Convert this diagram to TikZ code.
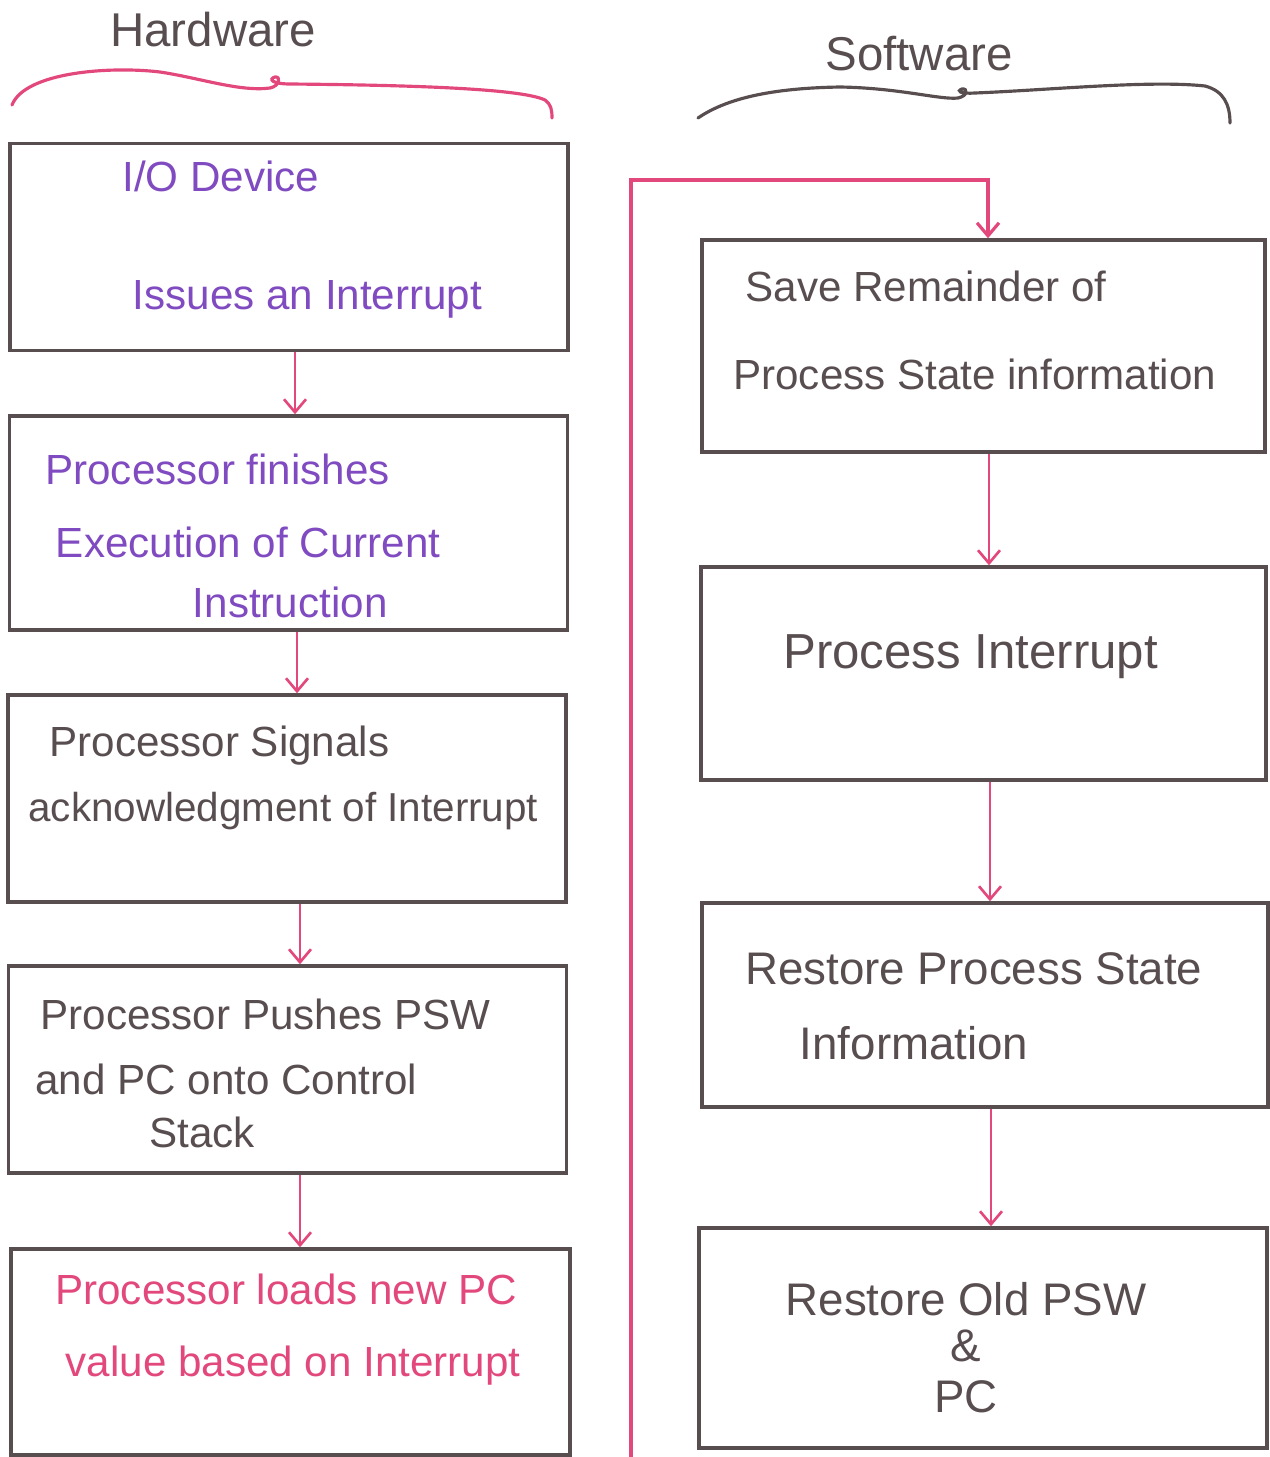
\documentclass[tikz,border=0pt]{standalone}
\usepackage{fontspec}
\setmainfont{Liberation Sans}
\usetikzlibrary{arrows.meta}
\definecolor{inkgray}{RGB}{88,78,80}
\definecolor{inkpink}{RGB}{226,72,124}
\definecolor{inkpurple}{RGB}{128,74,192}
\newcommand{\handfont}[1][24]{\fontsize{#1}{40}\selectfont}

\begin{document}
\begin{tikzpicture}[x=0.02cm,y=-0.02cm,
  box/.style={draw=inkgray,line width=2pt,minimum width=11.16cm,inner sep=0pt},
  txt/.style={font=\handfont,align=left,anchor=north west,inner sep=0pt},
  flow/.style={draw=inkpink,line width=1.5pt,-{Straight Barb[length=2.6mm,width=4.4mm]}},
  brace/.style={line width=1.8pt,line cap=round}]
\useasboundingbox (0,0) rectangle (1270,1457);

% headings
\node[txt,text=inkgray,font={\handfont[27]}] (hw) at (110,12) {Hardware};
\node[txt,text=inkgray,font={\handfont[27]}] (sw) at (825,36) {Software};
\draw[brace,inkpink] (12,105) .. controls (25,72) and (110,66) .. (160,72)
  .. controls (200,78) and (240,92) .. (270,88) .. controls (280,86) and (281,76) .. (275,77)
  .. controls (268,79) and (272,84) .. (290,84) .. controls (400,85) and (520,88) .. (545,100)
  .. controls (551,104) and (552,110) .. (552,118);
\draw[brace,inkgray] (698,118) .. controls (730,96) and (780,88) .. (840,87)
  .. controls (900,88) and (940,100) .. (958,98) .. controls (968,96) and (968,88) .. (962,89)
  .. controls (956,91) and (960,94) .. (975,93) .. controls (1050,90) and (1150,80) .. (1205,86)
  .. controls (1224,91) and (1230,105) .. (1230,123);

% hardware side
\node[box,minimum height=4.14cm] (io) at (289,247) {};
\node[box,minimum height=4.28cm] (fin) at (288.5,523) {};
\node[box,minimum height=4.14cm] (ack) at (287,798.5) {};
\node[box,minimum height=4.14cm] (push) at (287.5,1069.5) {};
\node[box,minimum width=11.18cm,minimum height=4.12cm] (load) at (290.5,1352) {};

\node[txt,text=inkpurple] (io-txt) at (122,161) {I/O Device\\[27pt]\hspace*{6pt}Issues an Interrupt};
\node[txt,text=inkpurple] (fin-txt) at (45,454) {Processor finishes\\[1.5pt]\hspace*{6pt}Execution of Current\\[-6pt]\hspace*{84pt}Instruction};
\node[txt,text=inkgray] (ack-txt) at (28,726) {\hspace*{12pt}Processor Signals\\[-3pt]{\handfont[23]acknowledgment of Interrupt}};
\node[txt,text=inkgray] (push-txt) at (35,999) {\hspace*{3pt}Processor Pushes PSW\\[-3pt]and PC onto Control\\[-10pt]\hspace*{65pt}Stack};
\node[txt,text=inkpink] (load-txt) at (55,1274) {Processor loads new PC\\[1pt]\hspace*{6pt}value based on Interrupt};

% software side
\node[box,minimum width=11.26cm,minimum height=4.24cm] (save) at (983.5,346) {};
\node[box,minimum width=11.3cm,minimum height=4.26cm] (proc) at (983.5,673.5) {};
\node[box,minimum width=11.32cm,minimum height=4.08cm] (restore) at (985,1005) {};
\node[box,minimum width=11.36cm,minimum height=4.4cm] (old) at (983,1338) {};

\node[txt,text=inkgray] (save-txt) at (733,271) {\hspace*{7pt}Save Remainder of\\[10pt]Process State information};
\node[txt,text=inkgray,font={\handfont[28]}] (proc-txt) at (783,634) {Process Interrupt};
\node[txt,text=inkgray,font={\handfont[26]}] (restore-txt) at (745,952) {Restore Process State\\[2.7pt]\hspace*{31pt}Information};
\node[txt,text=inkgray,font={\handfont[26]},align=center,anchor=north] (old-txt) at (966,1282) {Restore Old PSW\\[-14pt]\&\\[-11pt]PC};

% flow
\draw[flow] ([xshift=0.12cm]io.south) -- ([xshift=0.12cm]io.south |- fin.north);
\draw[flow] ([xshift=0.17cm]fin.south) -- ([xshift=0.17cm]fin.south |- ack.north);
\draw[flow] ([xshift=0.26cm]ack.south) -- ([xshift=0.26cm]ack.south |- push.north);
\draw[flow] ([xshift=0.25cm]push.south) -- ([xshift=0.25cm]push.south |- load.north);
\draw[flow] ([xshift=0.11cm]save.south) -- ([xshift=0.11cm]save.south |- proc.north);
\draw[flow] ([xshift=0.13cm]proc.south) -- ([xshift=0.13cm]proc.south |- restore.north);
\draw[flow] ([xshift=0.12cm]restore.south) -- ([xshift=0.12cm]restore.south |- old.north);

\coordinate (loopstart) at (631,1457);
\coordinate (looptop) at (631,180);
\draw[flow,line width=1.8pt] (loopstart) -- (looptop) -| ([xshift=0.09cm]save.north);
\end{tikzpicture}
\end{document}
